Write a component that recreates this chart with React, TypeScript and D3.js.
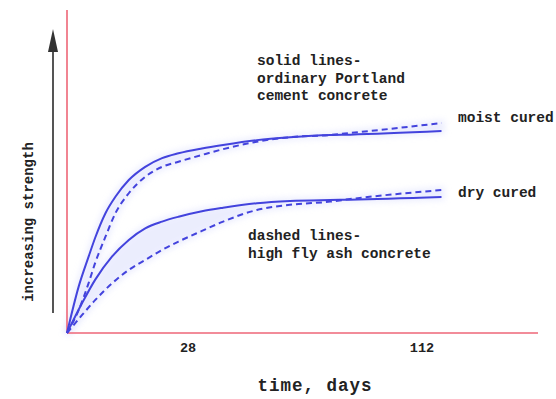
import React from "react";
import * as d3 from "d3";

// x: days, y: relative strength (0-100)
const moistOPC: [number, number][] = [
  [0, 0], [2.7, 14.4], [5, 23.7], [6.5, 29.5], [8.9, 37.2], [11.2, 42.3], [14.3, 47.5],
  [18.1, 51.6], [22, 54.3], [25.8, 55.8], [33, 57.3], [40.6, 58.4], [52.7, 59.9],
  [64.6, 60.8], [79, 61.5], [86.2, 61.6], [119, 62.7],
];
const moistFlyAsh: [number, number][] = [
  [0, 0], [2.7, 7.1], [5, 15.5], [6.5, 21.7], [8.9, 29.9], [11.2, 37.2], [14.3, 43.4],
  [18.1, 48.5], [22, 51.6], [25.8, 53.2], [33, 55.3], [40.6, 57.1], [52.7, 59.4],
  [64.6, 60.8], [79, 61.5], [86.2, 62.1], [119, 65.2],
];
const dryOPC: [number, number][] = [
  [0, 0], [3.5, 9.3], [6.5, 16.5], [10.4, 23.7], [14.3, 28.9], [18.1, 32.5], [22, 34.6],
  [25.8, 36.1], [33, 37.8], [40.6, 38.9], [52.7, 40.3], [64.6, 41], [79, 41.3],
  [86.2, 41.4], [119, 42.2],
];
const dryFlyAsh: [number, number][] = [
  [0, 0], [3.5, 5.6], [6.5, 10.2], [10.4, 15.4], [14.3, 19.6], [18.1, 22.7], [22, 25.8],
  [25.8, 28.4], [33, 31.7], [40.6, 34.6], [52.7, 38.2], [64.6, 39.8], [79, 40.8],
  [86.2, 41.6], [119, 44.4],
];
const xTicks = [28, 112];
const seriesLabels = ["moist cured", "dry cured"];
const noteSolid = ["solid lines-", "ordinary Portland", "cement concrete"];
const noteDashed = ["dashed lines-", "high fly ash concrete"];
const xTitle = "time, days";
const yTitle = "increasing strength";

const W = 556;
const H = 399;
const ox = 67;
const oy = 333;

export default function App() {
  const x = d3.scaleLinear().domain([0, 28, 112]).range([ox, 188, 422]);
  const y = d3.scaleLinear().domain([0, 100]).range([oy, 11]);
  const mk = () =>
    d3
      .line<[number, number]>()
      .x((d) => x(d[0]))
      .y((d) => y(d[1]))
      .curve(d3.curveMonotoneX);
  const line = mk();

  const blue = "#4343dd";
  const font = "'Liberation Mono', 'Courier New', monospace";

  const band = (a: [number, number][], b: [number, number][]) => {
    const pa = line(a) || "";
    const rev = [...b].reverse();
    const pb = mk()(rev) || "";
    return pa + "L" + pb.slice(1) + "Z";
  };

  const textStyle = {
    fontFamily: font,
    fontWeight: 700,
    fontSize: 14.5,
    fill: "#222",
  } as const;

  return (
    <svg
      width={W}
      height={H}
      style={{ position: "absolute", left: 0, top: 0, background: "#fff" }}
    >
      <defs>
        <filter id="blur" x="-10%" y="-10%" width="120%" height="120%">
          <feGaussianBlur stdDeviation="3" />
        </filter>
      </defs>
      {/* light haze bands */}
      <path d={band(moistOPC, moistFlyAsh)} fill="#dcdffd" opacity={0.55} stroke="#dcdffd" strokeWidth={6} filter="url(#blur)" />
      <path d={band(dryOPC, dryFlyAsh)} fill="#dcdffd" opacity={0.55} stroke="#dcdffd" strokeWidth={6} filter="url(#blur)" />

      {/* axes */}
      <line x1={ox} y1={10} x2={ox} y2={oy} stroke="#ee6677" strokeWidth={1.6} />
      <line x1={ox} y1={oy} x2={538} y2={oy} stroke="#ee6677" strokeWidth={1.6} />

      {/* curves */}
      <path d={line(moistOPC) || ""} fill="none" stroke={blue} strokeWidth={2} />
      <path d={line(dryOPC) || ""} fill="none" stroke={blue} strokeWidth={2} />
      <path d={line(moistFlyAsh) || ""} fill="none" stroke={blue} strokeWidth={2} strokeDasharray="6,4" />
      <path d={line(dryFlyAsh) || ""} fill="none" stroke={blue} strokeWidth={2} strokeDasharray="6,4" />

      {/* y arrow */}
      <line x1={53} y1={313} x2={53} y2={45} stroke="#555" strokeWidth={2} />
      <path d="M53,29 L48,52 L58,52 Z" fill="#333" />
      <text
        transform={`translate(33,222) rotate(-90)`}
        textAnchor="middle"
        style={{ ...textStyle, fontSize: 14 }}
      >
        {yTitle}
      </text>

      {/* x ticks */}
      {xTicks.map((t) => (
        <text key={t} x={x(t)} y={352} textAnchor="middle" style={{ ...textStyle, fontSize: 13.5 }}>
          {t}
        </text>
      ))}
      <text x={315} y={391} textAnchor="middle" style={{ ...textStyle, fontSize: 17.5, letterSpacing: 1 }}>
        {xTitle}
      </text>

      {/* annotations */}
      {noteSolid.map((s, i) => (
        <text key={s} x={257} y={65 + i * 17.5} style={textStyle}>
          {s}
        </text>
      ))}
      {noteDashed.map((s, i) => (
        <text key={s} x={248} y={240 + i * 18} style={textStyle}>
          {s}
        </text>
      ))}
      <text x={458} y={122} style={textStyle}>
        {seriesLabels[0]}
      </text>
      <text x={458} y={197} style={textStyle}>
        {seriesLabels[1]}
      </text>
    </svg>
  );
}
